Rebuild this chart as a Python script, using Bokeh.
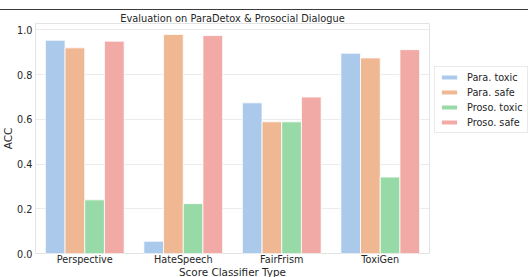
from bokeh.plotting import figure
from bokeh.models import ColumnDataSource, FixedTicker, NumeralTickFormatter, Legend, LegendItem, Range1d
from bokeh.transform import dodge
from bokeh.embed import file_html
from bokeh.resources import INLINE

categories = ["Perspective", "HateSpeech", "FairFrism", "ToxiGen"]
series_names = ["Para. toxic", "Para. safe", "Proso. toxic", "Proso. safe"]
para_toxic = [0.954, 0.055, 0.674, 0.896]
para_safe = [0.920, 0.980, 0.589, 0.875]
proso_toxic = [0.240, 0.223, 0.589, 0.342]
proso_safe = [0.950, 0.975, 0.700, 0.912]
y_ticks = [0.0, 0.2, 0.4, 0.6, 0.8, 1.0]

colors = ["#abc9ea", "#efb792", "#98daa7", "#f2aaa7"]
offsets = [-0.3, -0.1, 0.1, 0.3]
keys = ["para_toxic", "para_safe", "proso_toxic", "proso_safe"]

source = ColumnDataSource(data=dict(
    cat=categories,
    para_toxic=para_toxic,
    para_safe=para_safe,
    proso_toxic=proso_toxic,
    proso_safe=proso_safe,
))

FONT = "DejaVu Sans"
TXT = "#262626"

p = figure(
    x_range=categories,
    y_range=Range1d(0, 1.029),
    frame_width=394, frame_height=230,
    min_border_left=32, min_border_top=13, min_border_bottom=24, min_border_right=10,
    output_backend="svg", toolbar_location=None,
    title="Evaluation on ParaDetox & Prosocial Dialogue",
    styles={"margin-left": "-2px", "margin-top": "9px",
            "border-top": "1px solid #3c3c3c", "border-left": "1px solid #3c3c3c"},
)

renderers = []
for k, c, off in zip(keys, colors, offsets):
    r = p.vbar(x=dodge("cat", off, range=p.x_range), top=k, width=0.2, source=source,
               fill_color=c, line_color="white", line_width=0.8)
    renderers.append(r)

p.title.align = "center"
p.title.text_font = FONT
p.title.text_font_size = "9.8px"
p.title.text_font_style = "normal"
p.title.text_color = TXT
p.title.text_line_height = 1.0
p.title.standoff = 0
p.title.offset = 0

p.outline_line_color = "#e3e3e3"
p.xgrid.grid_line_color = None
p.ygrid.grid_line_color = "#ebebeb"
p.ygrid.ticker = FixedTicker(ticks=y_ticks)

p.yaxis.ticker = FixedTicker(ticks=y_ticks)
p.yaxis.formatter = NumeralTickFormatter(format="0.0")
for ax in (p.xaxis[0], p.yaxis[0]):
    ax.axis_line_color = None
    ax.major_tick_line_color = None
    ax.minor_tick_line_color = None
    ax.major_tick_out = 0
    ax.major_tick_in = 0
    ax.major_label_text_font = FONT
    ax.major_label_text_font_size = "9.7px"
    ax.major_label_text_color = TXT
    ax.major_label_text_line_height = 1.0
    ax.axis_label_text_font = FONT
    ax.axis_label_text_font_size = "10.4px"
    ax.axis_label_text_font_style = "normal"
    ax.axis_label_text_color = TXT
    ax.axis_label_text_line_height = 1.0
p.xaxis.major_label_standoff = 0
p.xaxis.axis_label_standoff = -2
p.yaxis.major_label_standoff = 3
p.yaxis.axis_label_standoff = 0

p.xaxis.axis_label = "Score Classifier Type"
p.yaxis.axis_label = "ACC"

legend = Legend(
    items=[LegendItem(label=n, renderers=[r]) for n, r in zip(series_names, renderers)],
    location=(5, 120), margin=0, padding=4, spacing=3,
    glyph_width=20, glyph_height=6, label_height=12, label_standoff=8,
    label_text_font=FONT, label_text_font_size="9.7px", label_text_color=TXT,
    border_line_color="#d6d6d6", background_fill_color="white",
)
p.add_layout(legend, "right")

open("out.html", "w").write(file_html(p, INLINE))
